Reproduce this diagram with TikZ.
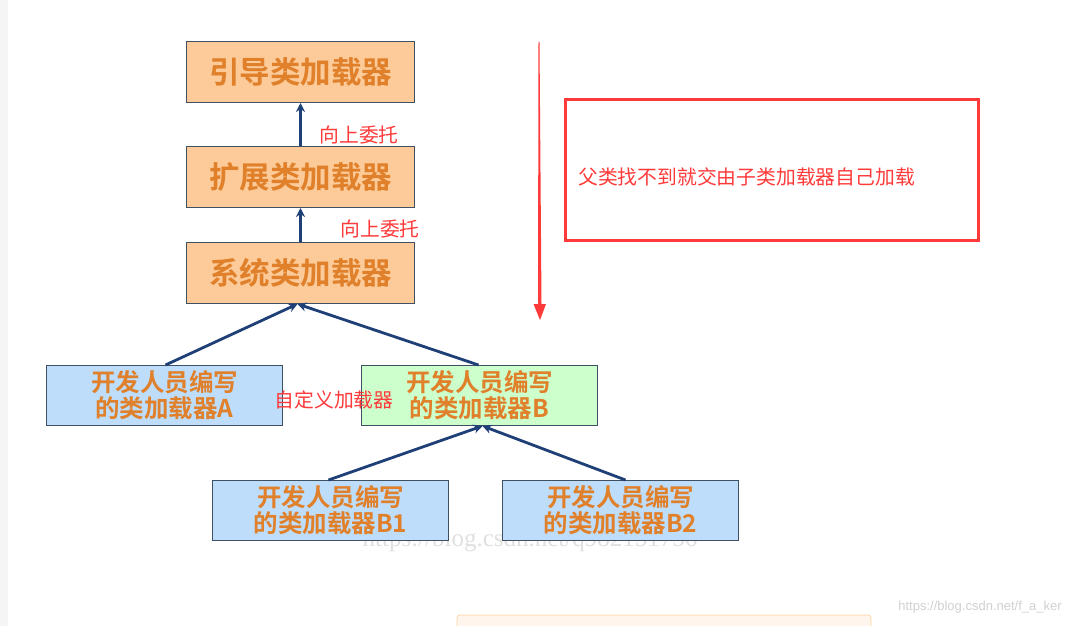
\documentclass[tikz,border=0pt]{standalone}
\usepackage{fontspec}
\newfontfamily\cjk{Noto Sans CJK SC}
\newfontfamily\cjkb{Noto Sans CJK SC Bold}
\setmainfont{Liberation Serif}
\setsansfont{Liberation Sans}
\usetikzlibrary{arrows.meta}
\definecolor{peach}{HTML}{FCCB99}
\definecolor{lblue}{HTML}{BDDDFB}
\definecolor{lgreen}{HTML}{CCFFCC}
\definecolor{bordc}{HTML}{3E5062}
\definecolor{txtor}{HTML}{E0802A}
\definecolor{arrb}{HTML}{1F3F77}
\definecolor{redc}{HTML}{FF3A3A}
\begin{document}
\begin{tikzpicture}[x=1pt,y=-1pt,
  box/.style={draw=bordc,line width=1pt,inner sep=0pt,anchor=north west,text=txtor,align=center},
  topbox/.style={box,fill=peach,minimum width=228pt,minimum height=61pt,font=\cjkb\fontsize{30.5}{33}\selectfont},
  lowbox/.style={box,minimum width=236pt,minimum height=60pt,font=\cjkb\fontsize{24.5}{26}\selectfont},
  upar/.style={draw=arrb,line width=2.8pt,-{Stealth[length=9pt,width=9pt]}},
  redlab/.style={text=redc,font=\cjk\fontsize{19.8}{21}\selectfont,inner sep=0pt}]
\useasboundingbox (0,0) rectangle (1088,626);
\fill[white] (0,0) rectangle (1088,626);
\fill[gray!8] (0,0) rectangle (8,626);
% bottom box
\draw[draw={rgb,255:red,255;green,214;blue,160},fill={rgb,255:red,255;green,245;blue,236},rounded corners=3pt,line width=0.8pt] (457,615) rectangle (871,640);
% watermarks
\node[text=black!12,font=\rmfamily\fontsize{25}{27}\selectfont,inner sep=0pt] (wm1) at (530,541) {https://blog.csdn.net/q982151756};
\node[text=black!18,font=\sffamily\fontsize{13}{15}\selectfont,inner sep=0pt] (wm2) at (980,607) {https://blog.csdn.net/f\_a\_ker};
% boxes
\node[topbox] (boot) at (186,41) {引导类加载器};
\node[topbox] (ext) at (186,146) {扩展类加载器};
\node[topbox] (sys) at (186,242) {系统类加载器};
\node[lowbox,fill=lblue] (a) at (46,365) {开发人员编写\\的类加载器A};
\node[lowbox,fill=lgreen] (b) at (361,365) {开发人员编写\\的类加载器B};
\node[lowbox,fill=lblue] (b1) at (212,480) {开发人员编写\\的类加载器B1};
\node[lowbox,fill=lblue] (b2) at (502,480) {开发人员编写\\的类加载器B2};
% arrows
\draw[upar] (ext.north) -- (boot.south);
\draw[upar] (sys.north) -- (ext.south);
\coordinate (sysin) at ([xshift=-3pt]sys.south);
\draw[upar] ([xshift=1pt]a.north) -- (sysin);
\draw[upar] ([xshift=-1pt]b.north) -- (sysin);
\coordinate (bin) at ([xshift=3pt]b.south);
\draw[upar] ([xshift=-2pt]b1.north) -- (bin);
\draw[upar] ([xshift=5pt]b2.north) -- (bin);
% labels
\node[redlab] (l1) at (359,135) {向上委托};
\node[redlab] (l2) at (380,229) {向上委托};
\node[redlab] (l3) at (334,400) {自定义加载器};
% red arrow
\fill[redc] (538.5,42) -- (539.5,42) -- (541.5,304) -- (546,304) -- (540,320) -- (533.5,304) -- (538,304) -- cycle;
% red box
\node[draw=redc,line width=3pt,minimum width=413pt,minimum height=140pt,anchor=north west,inner sep=0pt] (rb) at (563.5,98.5) {};
\node[redlab,anchor=west] (rt) at (578,177) {父类找不到就交由子类加载器自己加载};
\end{tikzpicture}
\end{document}
